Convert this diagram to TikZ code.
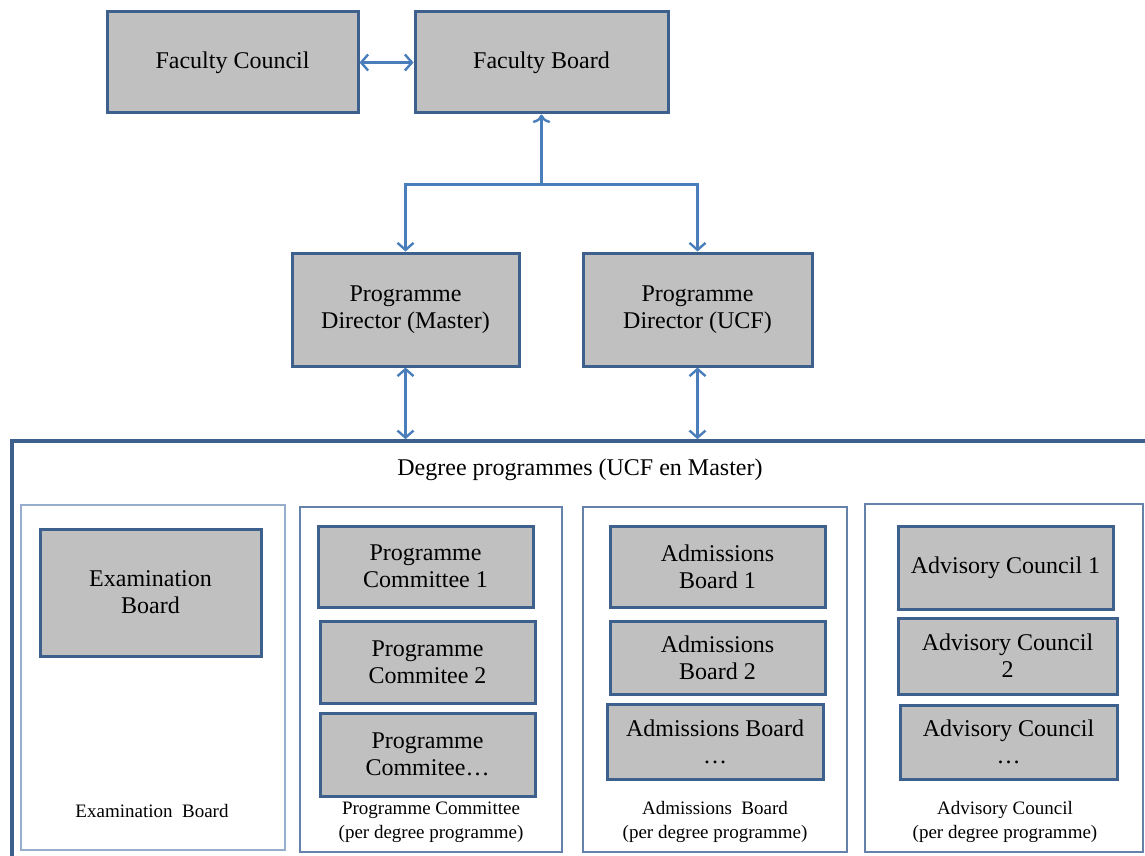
\documentclass[tikz,border=0pt]{standalone}
\usepackage{fontspec}
\setmainfont{Liberation Serif}
\usetikzlibrary{arrows.meta, positioning}

\definecolor{boxgray}{RGB}{192,192,192}
\definecolor{boxblue}{RGB}{62,96,140}
\definecolor{colblue}{RGB}{100,130,172}
\definecolor{lightcolblue}{RGB}{150,174,204}
\definecolor{arrowblue}{RGB}{74,126,187}

\begin{document}
\begin{tikzpicture}[x=0.5pt, y=-0.5pt]
  \newcommand\boxfont{\fontsize{12}{13.5}\selectfont}
  \newcommand\lblfont{\fontsize{9.5}{12}\selectfont}

  \tikzset{orgbox/.style={draw=boxblue, line width=1.5pt, fill=boxgray, align=center, font=\boxfont, inner sep=2pt}}
  \tikzset{colbox/.style={draw=colblue, line width=0.9pt, inner sep=0pt}}
  \tikzset{outerbox/.style={draw=boxblue, line width=1.8pt, inner sep=0pt}}
  \tikzset{ptr/.style={draw=arrowblue, line width=1.2pt, -{Straight Barb[length=3.5pt, width=8pt]}}}
  \tikzset{dptr/.style={ptr, {Straight Barb[length=3.5pt, width=8pt]}-{Straight Barb[length=3.5pt, width=8pt]}}}

  \useasboundingbox (0,0) rectangle (1145,856);

  % faculty level
  \node[orgbox, minimum width=125.5pt, minimum height=50.5pt] at (232.5, 62.5) (fc) {Faculty Council};
  \node[orgbox, minimum width=126.5pt, minimum height=50.5pt] at (541.5, 62.5) (fb) {Faculty Board};
  \draw[dptr] (fc) -- (fb);

  % programme directors
  \node[orgbox, minimum width=113.5pt, minimum height=56.5pt] at (405.5, 309.5) (pdm) {Programme\\Director (Master)};
  \node[orgbox, minimum width=114.5pt, minimum height=56.5pt] at (697.5, 309.5) (pdu) {Programme\\Director (UCF)};
  \draw[ptr, <-] (fb.south) -- ++(0, 70) coordinate (split);
  \draw[ptr] (split) -| (pdm.north);
  \draw[ptr] (split) -| (pdu.north);

  % degree programmes
  \node[outerbox, minimum width=574pt, minimum height=215pt] at (586, 656) (dp) {};
  \node[font=\boxfont] at (580, 470) (dp-t) {Degree programmes (UCF en Master)};
  \foreach \pd in {pdm, pdu}{
    \draw[dptr] (\pd.south) -- (\pd.south |- dp.north);
  }

  \foreach \name/\cx/\cy/\w/\h/\col/\lw in {col1/153/677.5/132/172.5/lightcolblue/1.3, col2/431/679.5/131/172.5/colblue/0.9, col3/715/679.5/132/172.5/colblue/0.9, col4/1004/678/139/174/colblue/0.9}{
    \node[colbox, draw=\col, line width=\lw pt, minimum width=\w pt, minimum height=\h pt] at (\cx, \cy) (\name) {};
  }

  \node[orgbox, minimum width=110.5pt, minimum height=63.5pt] at (150.5, 592.5) (eb) {Examination\\Board};

  \foreach \name/\cx/\cy/\w/\h/\txt in {
      pc1/425.5/566.5/107.5/40.5/{Programme\\Committee 1},
      pc2/427.5/662/107.5/41/{Programme\\Commitee 2},
      pc3/427.5/754.5/107.5/41.5/{Programme\\Commitee\dots},
      ab1/717.5/566.5/107.5/40.5/{Admissions\\Board 1},
      ab2/717.5/657.5/107.5/36.5/{Admissions\\Board 2},
      ab3/715/741.5/108/37.5/{Admissions Board\\\dots},
      ac1/1005.5/567.5/107.5/41.5/{Advisory Council 1},
      ac2/1007.5/656/109.5/38/{Advisory Council\\2},
      ac3/1008.5/742/108.5/37/{Advisory Council\\\dots}}{
    \node[orgbox, minimum width=\w pt, minimum height=\h pt] at (\cx, \cy) (\name) {\txt};
  }

  % column labels
  \node[font=\lblfont, align=center] at (152, 811) (col1-l) {Examination\ \ Board};
  \node[font=\lblfont, align=center] at (431, 822) (col2-l) {Programme Committee\\(per degree programme)};
  \node[font=\lblfont, align=center] at (715, 822) (col3-l) {Admissions\ \ Board\\(per degree programme)};
  \node[font=\lblfont, align=center] at (1005, 822) (col4-l) {Advisory Council\\(per degree programme)};
\end{tikzpicture}
\end{document}
